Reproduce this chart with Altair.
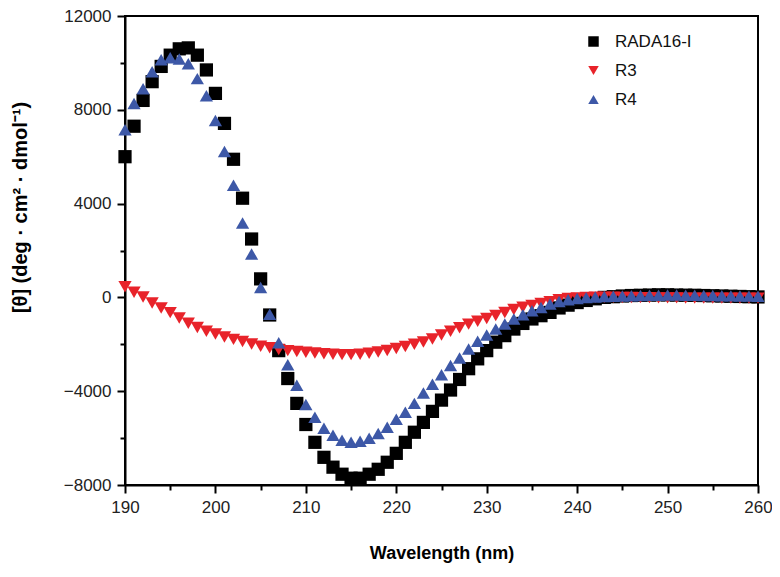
import altair as alt
import pandas as pd

wavelengths = list(range(190, 261))

rada16 = [6000, 7300, 8400, 9200, 9850, 10330, 10600, 10640, 10330, 9700,
          8700, 7420, 5890, 4230, 2490, 790, -750, -2270, -3460, -4520,
          -5420, -6180, -6820, -7240, -7540, -7710, -7710, -7540, -7330, -7030,
          -6650, -6180, -5750, -5330, -4860, -4380, -3950, -3500, -3040, -2620,
          -2270, -1910, -1630, -1350, -1110, -920, -780, -640, -450, -330,
          -220, -130, -60, 0, 30, 60, 80, 90, 100, 110,
          110, 100, 95, 90, 80, 70, 60, 50, 40, 30,
          20]

r3 = [450, 220, 20, -240, -450, -650, -880, -1100, -1280, -1440,
      -1560, -1690, -1790, -1880, -1990, -2080, -2150, -2220, -2270, -2310,
      -2340, -2370, -2400, -2420, -2440, -2440, -2420, -2380, -2330, -2260,
      -2180, -2090, -2000, -1900, -1770, -1600, -1440, -1290, -1140, -1020,
      -900, -770, -640, -520, -420, -340, -260, -180, -100, -50,
      -20, 0, 10, 10, 10, 0, 0, -10, -10, -20,
      -20, -20, -30, -30, -30, -30, -30, -30, -30, -30,
      -30]

r4 = [7150, 8270, 8900, 9620, 10130, 10220, 10170, 9960, 9330, 8600,
      7540, 6220, 4780, 3170, 1850, 420, -720, -1930, -2870, -3750,
      -4570, -5110, -5580, -5880, -6090, -6180, -6130, -6010, -5800, -5540,
      -5200, -4900, -4520, -4080, -3700, -3300, -2900, -2580, -2200, -1870,
      -1600, -1350, -1130, -920, -740, -570, -430, -285, -175, -100,
      -50, -10, 20, 40, 50, 60, 70, 80, 90, 95,
      100, 100, 95, 90, 85, 80, 70, 65, 60, 55,
      50]

series_names = ["RADA16-I", "R3", "R4"]
series_values = [rada16, r3, r4]
series_colors = ["#000000", "#e8232a", "#3d58a7"]
series_shapes = ["square", "triangle-down", "triangle-up"]

rows = []
for name, vals in zip(series_names, series_values):
    for w, v in zip(wavelengths, vals):
        rows.append({"wavelength": w, "value": v, "sample": name})
df = pd.DataFrame(rows)

font = "Liberation Sans"

x_axis = alt.Axis(
    title="Wavelength (nm)",
    values=list(range(190, 261, 5)),
    labelExpr="datum.value % 10 === 0 ? format(datum.value, 'd') : ''",
    tickSize={"condition": {"test": "datum.value % 10 === 0", "value": 8}, "value": 5},
    labelFlush=False,
    labelOverlap=False,
    grid=False,
    labelPadding=6,
    titlePadding=29,
    titleFontSize=18,
)

y_axis = alt.Axis(
    title="[θ] (deg · cm² · dmol⁻¹)",
    values=list(range(-8000, 12001, 2000)),
    labelExpr="datum.value % 4000 === 0 ? format(datum.value, 'd') : ''",
    tickSize={"condition": {"test": "datum.value % 4000 === 0", "value": 8}, "value": 5},
    labelOverlap=False,
    grid=False,
    labelPadding=6,
    titlePadding=33,
    titleY=191,
    titleFontSize=20,
)

legend = alt.Legend(
    title=None,
    orient="none",
    legendX=460,
    legendY=17,
    labelFontSize=17,
    labelFont=font,
    labelColor="#111",
    symbolSize=110,
    labelOffset=13,
    rowPadding=11,
    symbolStrokeWidth=0,
)

chart = alt.Chart(df).mark_point(filled=True, size=175, opacity=1).encode(
    x=alt.X("wavelength:Q", scale=alt.Scale(domain=[190, 260], nice=False, zero=False), axis=x_axis),
    y=alt.Y("value:Q", scale=alt.Scale(domain=[-8000, 12000], nice=False, zero=False), axis=y_axis),
    color=alt.Color("sample:N", scale=alt.Scale(domain=series_names, range=series_colors), legend=legend),
    shape=alt.Shape("sample:N", scale=alt.Scale(domain=series_names, range=series_shapes), legend=legend),
).properties(
    width=633,
    height=469,
    autosize=alt.AutoSizeParams(type="none"),
    padding={"left": 117, "top": 8, "right": 14, "bottom": 84},
).configure_view(
    stroke="#000000",
    strokeWidth=2,
).configure_axis(
    domainColor="#000000",
    domainWidth=2,
    tickColor="#000000",
    tickWidth=2,
    labelFont=font,
    labelFontSize=17,
    labelColor="#222222",
    titleFont=font,
    titleFontWeight="bold",
    titleColor="#000000",
)

chart.save("out.html", embed_options={"renderer": "svg", "actions": False})
